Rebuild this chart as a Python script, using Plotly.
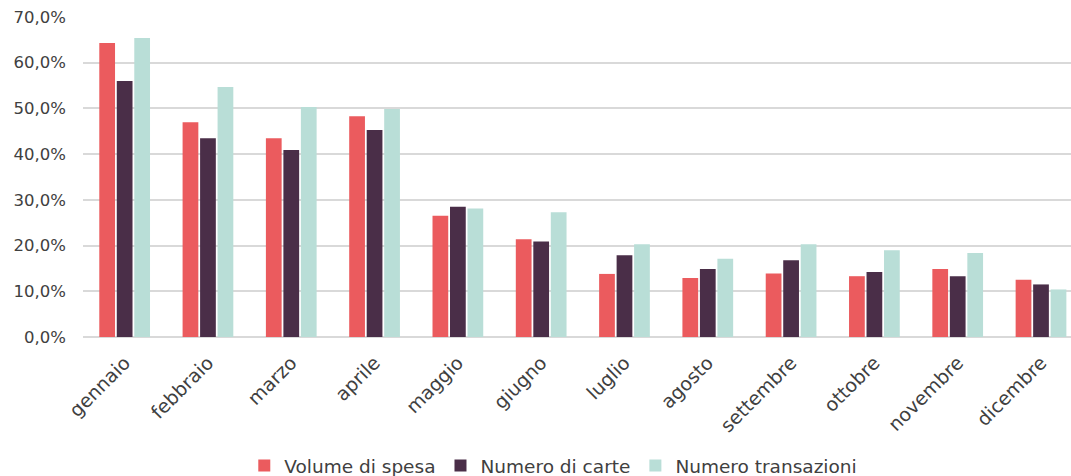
import plotly.graph_objects as go

months = ["gennaio", "febbraio", "marzo", "aprile", "maggio", "giugno",
          "luglio", "agosto", "settembre", "ottobre", "novembre", "dicembre"]
volume_spesa = [64.3, 47.0, 43.5, 48.3, 26.5, 21.4, 13.8, 12.9, 13.9, 13.3, 14.9, 12.5]
numero_carte = [56.0, 43.5, 40.9, 45.3, 28.5, 20.9, 17.9, 14.9, 16.8, 14.2, 13.3, 11.5]
numero_transazioni = [65.4, 54.7, 50.3, 49.9, 28.1, 27.3, 20.3, 17.1, 20.3, 19.0, 18.4, 10.4]
y_ticks = [0, 10, 20, 30, 40, 50, 60, 70]
y_tick_labels = ["0,0%", "10,0%", "20,0%", "30,0%", "40,0%", "50,0%", "60,0%", "70,0%"]

font_family = "DejaVu Sans, sans-serif"
text_color = "#404040"

fig = go.Figure()
fig.add_trace(go.Bar(x=months, y=volume_spesa, name="Volume di spesa",
                     marker=dict(color="#EB5B5E", line=dict(width=0))))
fig.add_trace(go.Bar(x=months, y=numero_carte, name="Numero di carte",
                     marker=dict(color="#4A2E48", line=dict(width=0))))
fig.add_trace(go.Bar(x=months, y=numero_transazioni, name="Numero transazioni",
                     marker=dict(color="#B9DED7", line=dict(width=0))))

fig.update_layout(
    width=1071, height=476,
    barmode="group", bargap=0.37, bargroupgap=0.1,
    separators=",.",
    paper_bgcolor="white", plot_bgcolor="white",
    margin=dict(l=83, r=0, t=17, b=139),
    font=dict(family=font_family, size=17, color=text_color),
    legend=dict(orientation="h", x=0.476, xanchor="center",
                yref="container", y=0.021, yanchor="middle",
                font=dict(size=18.5, color=text_color),
                tracegroupgap=0, traceorder="normal"),
    xaxis=dict(type="category", range=[-0.5, 11.36], tickangle=-45,
               showgrid=False, showline=False, ticks="", automargin=False,
               ticklabelstandoff=10,
               tickfont=dict(size=19, color=text_color)),
    yaxis=dict(range=[0, 70], tickmode="array", tickvals=y_ticks, ticktext=y_tick_labels,
               showgrid=True, gridcolor="#D9D9D9", gridwidth=1.5,
               zeroline=True, zerolinecolor="#D9D9D9", zerolinewidth=1.5,
               showline=False, ticks="", ticklabelstandoff=16, automargin=False,
               tickfont=dict(size=16.5, color=text_color)),
)

fig.write_html("out.html", config={"displayModeBar": False},
               post_script="document.body.style.margin='0px';document.body.style.overflow='hidden';")
